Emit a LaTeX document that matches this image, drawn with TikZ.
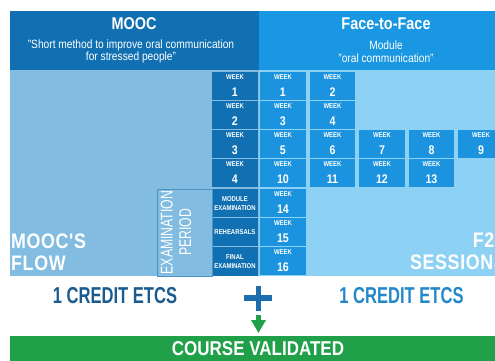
\documentclass[tikz,border=0pt]{standalone}
\usepackage{fontspec}
\setmainfont{Liberation Sans}[FakeStretch=0.85]
\newfontfamily\tall{Liberation Sans}[FakeStretch=0.72]
\newfontfamily\flowfont{Liberation Sans}[FakeStretch=0.85, LetterSpace=3]
\usetikzlibrary{positioning,arrows.meta}

\definecolor{moocblue}{HTML}{1170B1}
\definecolor{faceblue}{HTML}{1A97E2}
\definecolor{moocbg}{HTML}{82BCE0}
\definecolor{facebg}{HTML}{8DD2F4}
\definecolor{cellblue}{HTML}{1C93DE}
\definecolor{creditdark}{HTML}{1B5B8E}
\definecolor{creditlight}{HTML}{2288CA}
\definecolor{plusblue}{HTML}{1D6EAF}
\definecolor{validgreen}{HTML}{1FA049}

% one week box: name, x, y, number, colour
\newcommand{\weekcell}[5]{%
  \node (#1) [cellbox, fill=#5] at (#2,#3) {};
  \node [weektag] at ([yshift=-5.5pt]#1.north) {WEEK};
  \node [weeknum] at ([yshift=-20pt]#1.north) {#4};
}

\begin{document}
\begin{tikzpicture}[x=1pt, y=-1pt,
  cellbox/.style={minimum width=45.5pt, minimum height=27.5pt, inner sep=0pt, anchor=north west},
  weektag/.style={font=\bfseries\fontsize{7}{8}\selectfont, text=white, inner sep=0pt},
  weeknum/.style={font=\bfseries\fontsize{12.5}{13}\selectfont, text=white, inner sep=0pt},
  examtag/.style={font=\bfseries\fontsize{7}{9}\selectfont, text=white, align=center, inner sep=0pt},
  headbox/.style={minimum height=59pt, inner sep=0pt, anchor=north west},
  headtitle/.style={font=\bfseries\fontsize{17}{18}\selectfont, text=white, inner sep=0pt},
  headsub/.style={font=\fontsize{12}{11}\selectfont, text=white!92, align=center, anchor=base, inner sep=0pt},
  bigflow/.style={font=\flowfont\bfseries\fontsize{21}{22}\selectfont, text=white, inner sep=0pt},
  credit/.style={font=\tall\bfseries\fontsize{23}{24}\selectfont, inner sep=0pt}]

\useasboundingbox (0,0) rectangle (495,361);
\clip (0,0) rectangle (495,361);

% Backgrounds
\fill[moocbg] (10,70) rectangle (258.5,276);
\fill[facebg] (258.5,70) rectangle (495,276);

% Headers
\node (moochead) [headbox, fill=moocblue, minimum width=248.5pt] at (10,11) {};
\node (facehead) [headbox, fill=faceblue, minimum width=240pt] at (258.5,11) {};
\node (mooctitle) [headtitle] at (134,24) {MOOC};
\node (moocsub) [headsub] at (131,60.5) {"Short method to improve oral communication\\for stressed people"};
\node (facetitle) [headtitle] at (386,24) {Face-to-Face};
\node (facesub) [headsub] at (386,62.5) {Module\\[2pt]"oral communication"};

% MOOC weeks
\foreach \r in {1,...,4} {
  \pgfmathsetmacro\yy{72+29*(\r-1)}
  \weekcell{m\r}{212}{\yy}{\r}{moocblue}
}

% Face-to-face weeks
\foreach \c/\r/\n in {1/1/1, 2/1/2, 1/2/3, 2/2/4, 1/3/5, 2/3/6, 3/3/7, 4/3/8, 5/3/9,
                      1/4/10, 2/4/11, 3/4/12, 4/4/13} {
  \pgfmathsetmacro\xx{260+49.5*(\c-1)}
  \pgfmathsetmacro\yy{72+29*(\r-1)}
  \weekcell{f\n}{\xx}{\yy}{\n}{cellblue}
}
\foreach \n/\yy in {14/189, 15/218, 16/247} {
  \weekcell{f\n}{260}{\yy}{\n}{cellblue}
}

% Examination period
\node (module) [cellbox, fill=moocblue, minimum height=28pt] at (212,189) {};
\node (rehearse) [cellbox, fill=moocblue, minimum height=28pt] at (212,218) {};
\node (final) [cellbox, fill=moocblue, minimum height=29pt] at (212,247) {};
\node [examtag] at (module) {MODULE\\EXAMINATION};
\node [examtag] at (rehearse) {REHEARSALS};
\node [examtag] at (final) {FINAL\\EXAMINATION};
\node (exam) [draw=moocblue!75, line width=0.8pt, minimum width=55pt, minimum height=87pt,
  inner sep=0pt, anchor=north west] at (157,189) {};
\node (examtext) [rotate=90, align=center, text=white!88, inner sep=0pt,
  font=\tall\fontsize{17}{18.5}\selectfont] at (176,232.5) {EXAMINATION\\PERIOD};

% Flow labels
\node (moocflow) [bigflow, align=left, anchor=base west] at (11,270) {MOOC'S\\FLOW};
\node (faceflow) [bigflow, align=right, anchor=base east] at (506,269) {F2F\\SESSIONS};

% Credits
\node (creditmooc) [credit, text=creditdark] at (115,296) {1 CREDIT ETCS};
\node (creditface) [credit, text=creditlight] at (401.5,296) {1 CREDIT ETCS};
\fill[plusblue] (244,295) rectangle (272,301);
\fill[plusblue] (256,286) rectangle (261,311);
\coordinate (plusfoot) at (258.5,315);

% Result
\node (valid) [fill=validgreen, minimum width=485pt, minimum height=25pt, inner sep=0pt,
  anchor=north west] at (10,336) {};
\node (validtext) [font=\bfseries\fontsize{20}{21}\selectfont, text=white, inner sep=0pt]
  at (258,349) {COURSE VALIDATED};
\draw[validgreen, line width=5pt, -{Triangle[width=14pt,length=13pt]}, shorten >=3pt]
  (plusfoot) -- (plusfoot |- valid.north);

\end{tikzpicture}
\end{document}
